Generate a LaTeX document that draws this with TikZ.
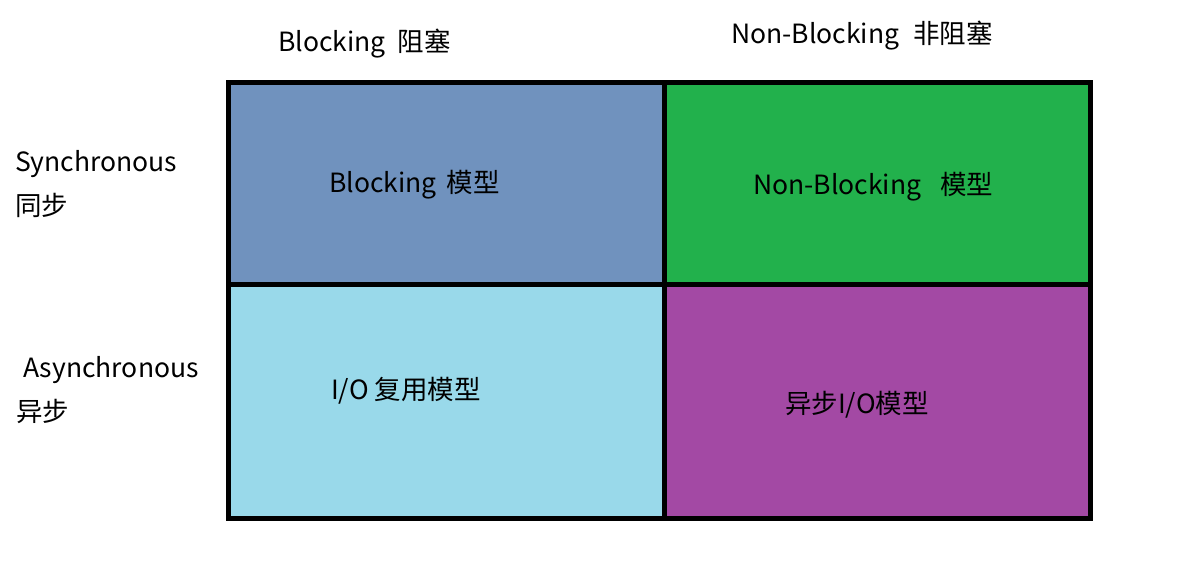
\documentclass[tikz,border=0pt]{standalone}
\usepackage{fontspec}
\setmainfont{Noto Sans CJK SC}
\definecolor{cA}{HTML}{7092BE}
\definecolor{cB}{HTML}{22B14C}
\definecolor{cC}{HTML}{99D9EA}
\definecolor{cD}{HTML}{A349A4}
\tikzset{
    RA/.style ={rectangle,inner sep=0pt,draw,line width=5pt},
    TX/.style ={anchor=base west,inner sep=0pt,font=\fontsize{26.5}{30}\selectfont}}
\begin{document}
\begin{tikzpicture}[x=1pt,y=-1pt]
        \useasboundingbox (0,0) rectangle (1203,582);
        \node[RA,fill=cA,minimum width=436pt,minimum height=201.5pt] (1) at(446.5,183.25){};
        \node[RA,fill=cB,minimum width=426pt,minimum height=201.5pt] (2) at(877.5,183.25){};
        \node[RA,fill=cC,minimum width=436pt,minimum height=234pt] (3) at(446.5,401){};
        \node[RA,fill=cD,minimum width=426pt,minimum height=234pt] (4) at(877.5,401){};
        \node[TX] (5) at(278,51){Blocking\ \ 阻塞};
        \node[TX] (6) at(731,43){Non-Blocking\hspace{14pt}非阻塞};
        \node[TX] (7) at(15,171){Synchronous};
        \node[TX] (8) at(15,215){同步};
        \node[TX] (9) at(23,377){Asynchronous};
        \node[TX] (10) at(16,421){异步};
        \node[TX] (11) at(329,192){Blocking\hspace{10pt}模型};
        \node[TX] (12) at(753,194){Non-Blocking\hspace{19pt}模型};
        \node[TX] (13) at(331,399){I/O 复用模型};
        \node[TX] (14) at(785,413){异步I/O模型};
    \end{tikzpicture}
\end{document}
